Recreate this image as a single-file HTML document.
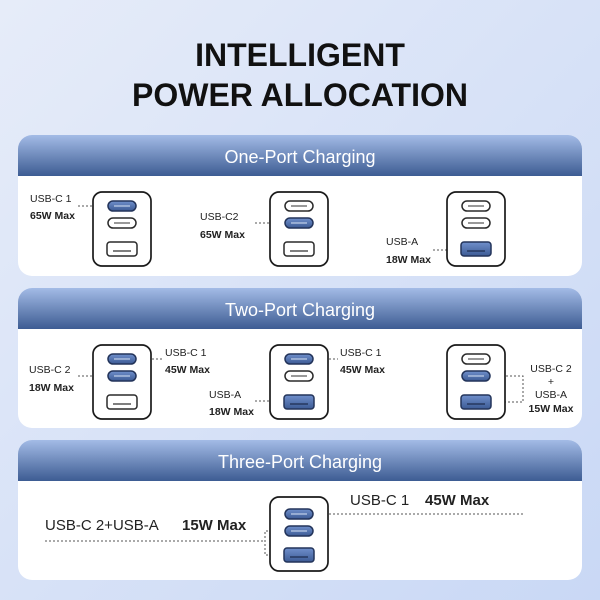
<!DOCTYPE html>
<html><head><meta charset="utf-8"><style>
html,body{margin:0;padding:0;width:600px;height:600px;overflow:hidden}
svg{display:block}
text{font-family:"Liberation Sans",sans-serif}
</style></head><body>
<svg width="600" height="600" viewBox="0 0 600 600" xmlns="http://www.w3.org/2000/svg">
<defs>
<linearGradient id="bg" x1="0" y1="0" x2="1" y2="1"><stop offset="0" stop-color="#e6ecf9"/><stop offset="1" stop-color="#c9d8f5"/></linearGradient>
<linearGradient id="hd" x1="0" y1="0" x2="0" y2="1"><stop offset="0" stop-color="#a3bbe6"/><stop offset="1" stop-color="#3d5c93"/></linearGradient>
<linearGradient id="pt" x1="0" y1="0" x2="0" y2="1"><stop offset="0" stop-color="#7090cc"/><stop offset="1" stop-color="#3c5a94"/></linearGradient>
<g id="box"><rect x="0" y="0" width="58" height="74" rx="9" fill="#fff" stroke="#1a1a1a" stroke-width="1.7"/></g>
<g id="c0"><rect x="0" y="0" width="28" height="10" rx="5" fill="#fff" stroke="#2a2a2a" stroke-width="1.5"/><line x1="6" y1="5" x2="22" y2="5" stroke="#333" stroke-width="1"/></g>
<g id="c1"><rect x="0" y="0" width="28" height="10" rx="5" fill="url(#pt)" stroke="#23345a" stroke-width="1.5"/><line x1="6" y1="5" x2="22" y2="5" stroke="#d8e2f5" stroke-width="1"/></g>
<g id="a0"><rect x="0" y="0" width="30" height="14" rx="3" fill="#fff" stroke="#2a2a2a" stroke-width="1.5"/><line x1="6" y1="9" x2="24" y2="9" stroke="#333" stroke-width="1.2"/></g>
<g id="a1"><rect x="0" y="0" width="30" height="14" rx="3" fill="url(#pt)" stroke="#23345a" stroke-width="1.5"/><line x1="6" y1="9" x2="24" y2="9" stroke="#1e2d50" stroke-width="1.2"/></g>
</defs>
<rect width="600" height="600" fill="url(#bg)"/>
<text x="300" y="66" text-anchor="middle" font-size="32" font-weight="bold" fill="#111">INTELLIGENT</text>
<text x="300" y="106" text-anchor="middle" font-size="32" font-weight="bold" fill="#111">POWER ALLOCATION</text>

<g>
<rect x="18" y="135" width="564" height="141" rx="14" fill="#fff"/>
<path d="M18 176 V149 a14 14 0 0 1 14 -14 H568 a14 14 0 0 1 14 14 V176 Z" fill="url(#hd)"/>
<text x="300" y="163" text-anchor="middle" font-size="18" fill="#fff">One-Port Charging</text>
<rect x="18" y="288" width="564" height="140" rx="14" fill="#fff"/>
<path d="M18 329 V302 a14 14 0 0 1 14 -14 H568 a14 14 0 0 1 14 14 V329 Z" fill="url(#hd)"/>
<text x="300" y="316" text-anchor="middle" font-size="18" fill="#fff">Two-Port Charging</text>
<rect x="18" y="440" width="564" height="140" rx="14" fill="#fff"/>
<path d="M18 481 V454 a14 14 0 0 1 14 -14 H568 a14 14 0 0 1 14 14 V481 Z" fill="url(#hd)"/>
<text x="300" y="468" text-anchor="middle" font-size="18" fill="#fff">Three-Port Charging</text>
</g>

<g stroke="#555" stroke-width="1" stroke-dasharray="2,2" fill="none">
<line x1="78" y1="206" x2="108" y2="206"/>
<line x1="255" y1="223" x2="285" y2="223"/>
<line x1="433" y1="250" x2="461" y2="250"/>
<line x1="78" y1="376" x2="108" y2="376"/>
<line x1="136" y1="359" x2="162" y2="359"/>
<line x1="313" y1="359" x2="338" y2="359"/>
<line x1="255" y1="401" x2="284" y2="401"/>
<polyline points="490,376 523,376 523,402 492,402"/>
<line x1="313" y1="514" x2="525" y2="514"/>
<line x1="45" y1="541" x2="265" y2="541"/>
<polyline points="284,531 265,531 265,555 283,555"/>
</g>

<g transform="translate(93,192)"><use href="#box"/><use href="#c1" x="15" y="9"/><use href="#c0" x="15" y="26"/><use href="#a0" x="14" y="50"/></g>
<g transform="translate(270,192)"><use href="#box"/><use href="#c0" x="15" y="9"/><use href="#c1" x="15" y="26"/><use href="#a0" x="14" y="50"/></g>
<g transform="translate(447,192)"><use href="#box"/><use href="#c0" x="15" y="9"/><use href="#c0" x="15" y="26"/><use href="#a1" x="14" y="50"/></g>
<g transform="translate(93,345)"><use href="#box"/><use href="#c1" x="15" y="9"/><use href="#c1" x="15" y="26"/><use href="#a0" x="14" y="50"/></g>
<g transform="translate(270,345)"><use href="#box"/><use href="#c1" x="15" y="9"/><use href="#c0" x="15" y="26"/><use href="#a1" x="14" y="50"/></g>
<g transform="translate(447,345)"><use href="#box"/><use href="#c0" x="15" y="9"/><use href="#c1" x="15" y="26"/><use href="#a1" x="14" y="50"/></g>
<g transform="translate(270,497)"><use href="#box"/><use href="#c1" x="15" y="12"/><use href="#c1" x="15" y="29"/><use href="#a1" x="14" y="51"/></g>

<g font-size="10.5" fill="#222">
<text x="30" y="202">USB-C 1</text><text x="30" y="219" font-weight="bold">65W Max</text>
<text x="200" y="220">USB-C2</text><text x="200" y="238" font-weight="bold">65W Max</text>
<text x="386" y="245">USB-A</text><text x="386" y="263" font-weight="bold">18W Max</text>

<text x="29" y="373">USB-C 2</text><text x="29" y="391" font-weight="bold">18W Max</text>
<text x="165" y="356">USB-C 1</text><text x="165" y="373" font-weight="bold">45W Max</text>
<text x="340" y="356">USB-C 1</text><text x="340" y="373" font-weight="bold">45W Max</text>
<text x="209" y="398">USB-A</text><text x="209" y="415" font-weight="bold">18W Max</text>
<text x="551" y="372" text-anchor="middle">USB-C 2</text><text x="551" y="385" text-anchor="middle">+</text>
<text x="551" y="398" text-anchor="middle">USB-A</text><text x="551" y="412" text-anchor="middle" font-weight="bold">15W Max</text>
</g>
<g font-size="15" fill="#222">
<text x="350" y="505">USB-C 1</text><text x="425" y="505" font-weight="bold">45W Max</text>
<text x="45" y="530">USB-C 2+USB-A</text><text x="182" y="530" font-weight="bold">15W Max</text>
</g>
</svg>
</body></html>
